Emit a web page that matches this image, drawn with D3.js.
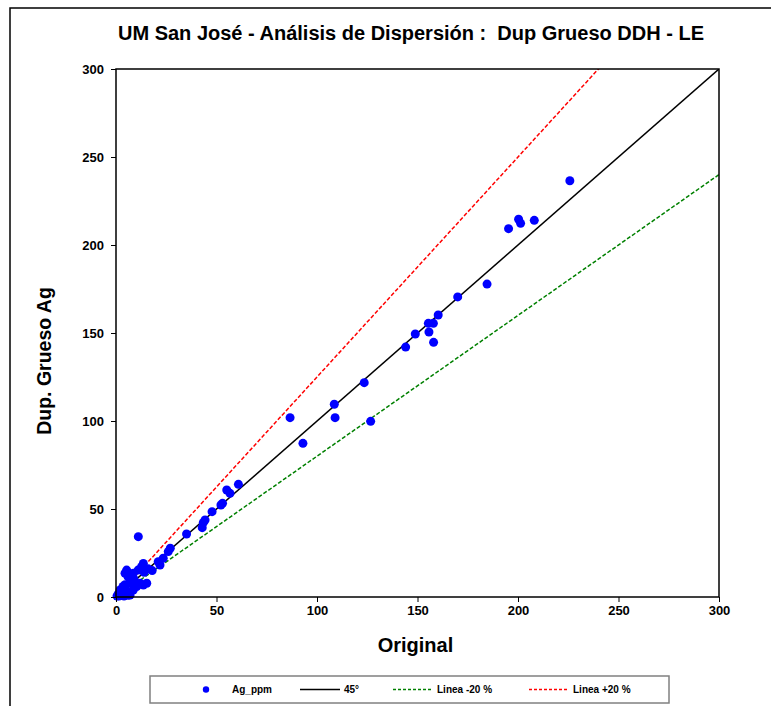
<!DOCTYPE html>
<html>
<head>
<meta charset="utf-8">
<script src="https://cdn.jsdelivr.net/npm/d3@7"></script>
<style>
  body { margin: 0; background: #fff; }
  svg { display: block; font-family: "Liberation Sans", Arial, sans-serif; }
  .axis text { font-size: 13px; font-weight: bold; fill: #000; }
  .axis path, .axis line { stroke: #000; stroke-width: 1; }
</style>
</head>
<body>
<div id="chart"></div>
<script>
// duplicate pairs: original vs coarse duplicate (Ag ppm)
var original = [0.5, 1, 1.5, 2, 2, 2.5, 3, 3.5, 3.6, 4, 4.5, 4.5, 5, 5.3, 6, 6, 7, 7, 7.5, 8.6,
  8.6, 9, 10.3, 11, 11.1, 12, 12.7, 13.6, 13.6, 15.3, 14, 16, 18, 21, 21.9, 23.5, 26, 27,
  35.1, 42.9, 43.4, 44.3, 47.8, 52.2, 53, 55.1, 56.7, 60.9,
  86.6, 93, 108.6, 109, 123.5, 126.7, 144.1, 148.9, 155.4, 157.9, 155.7, 160.3, 158, 170,
  184.6, 195.3, 200.3, 201.3, 208.1, 225.8];
var duplicate = [0.5, 1.5, 0.5, 2, 4, 1, 3, 6, 2, 0.5, 7, 13.5, 4, 15.3, 11.5, 1, 7.8, 1.1, 9, 13.5,
  4, 10, 5.9, 15.3, 34.3, 7.8, 17.2, 19.1, 6.8, 7.8, 14, 16, 15, 20, 18.2, 22, 25.8, 27.7,
  35.8, 39.4, 42.2, 43.75, 48.5, 52.3, 53.2, 60.8, 58.9, 64,
  101.9, 87.3, 109.5, 101.9, 121.8, 99.8, 142, 149.4, 155.5, 155.5, 150.6, 160.2, 144.7, 170.5,
  177.8, 209.3, 214.6, 212.3, 214, 236.5];

var xTicks = [0, 50, 100, 150, 200, 250, 300],
    yTicks = [0, 50, 100, 150, 200, 250, 300];

// reference lines: 45deg, -20 % (y = 0.8x), +20 % (y = x / 0.8)
var refLines = [
  {name: "45°", slope: 1, color: "#000", dash: null},
  {name: "Linea -20 %", slope: 0.8, color: "#008000", dash: "4,2"},
  {name: "Linea +20 %", slope: 1.25, color: "#ff0000", dash: "4,2"}
];

var W = 771, H = 706;
var margin = {top: 69, right: 52, bottom: 109, left: 116},
    width = W - margin.left - margin.right,
    height = H - margin.top - margin.bottom;

var x = d3.scaleLinear().domain([0, 300]).range([0, width]),
    y = d3.scaleLinear().domain([0, 300]).range([height, 0]);

var svg = d3.select("#chart").append("svg")
    .attr("width", W)
    .attr("height", H);

// outer frame
svg.append("rect")
    .attr("x", 10).attr("y", 8)
    .attr("width", W + 20).attr("height", H + 20)
    .attr("fill", "none").attr("stroke", "#000").attr("stroke-width", 1.5);

svg.append("text")
    .attr("x", 411)
    .attr("y", 40)
    .style("text-anchor", "middle")
    .style("font-size", "20px")
    .style("font-weight", "bold")
    .style("white-space", "pre")
    .text("UM San José - Análisis de Dispersión :  Dup Grueso DDH - LE");

svg.append("defs").append("clipPath")
    .attr("id", "clip")
  .append("rect")
    .attr("width", width)
    .attr("height", height);

var focus = svg.append("g")
    .attr("transform", "translate(" + margin.left + "," + margin.top + ")");

var lines = focus.append("g").attr("clip-path", "url(#clip)");
lines.selectAll("line")
    .data(refLines)
    .enter().append("line")
    .attr("x1", x(0)).attr("y1", y(0))
    .attr("x2", x(300))
    .attr("y2", function(d) { return y(300 * d.slope); })
    .attr("stroke", function(d) { return d.color; })
    .attr("stroke-width", 1.5)
    .attr("stroke-dasharray", function(d) { return d.dash; });

focus.append("g")
    .selectAll("circle")
    .data(original)
    .enter().append("circle")
    .attr("cx", function(d) { return x(d); })
    .attr("cy", function(d, i) { return y(duplicate[i]); })
    .attr("r", 4.5)
    .attr("fill", "#0000ff");

// plot box
focus.append("rect")
    .attr("width", width).attr("height", height)
    .attr("fill", "none").attr("stroke", "#000").attr("stroke-width", 1.5);

focus.append("g")
    .attr("class", "axis")
    .attr("transform", "translate(0," + height + ")")
    .call(d3.axisBottom(x).tickValues(xTicks).tickSize(5).tickSizeOuter(0).tickPadding(4));

focus.append("g")
    .attr("class", "axis")
    .call(d3.axisLeft(y).tickValues(yTicks).tickSize(5).tickSizeOuter(0).tickPadding(7));

focus.selectAll(".axis .domain").remove();

focus.append("text")
    .attr("x", width / 2 - 2)
    .attr("y", height + 55)
    .style("text-anchor", "middle")
    .style("font-size", "20px")
    .style("font-weight", "bold")
    .text("Original");

svg.append("text")
    .attr("transform", "translate(51," + 361 + ") rotate(-90)")
    .style("text-anchor", "middle")
    .style("font-size", "19.5px")
    .style("font-weight", "bold")
    .text("Dup. Grueso Ag");

// legend
var legend = svg.append("g").attr("transform", "translate(150,676)");
legend.append("rect")
    .attr("width", 519).attr("height", 27)
    .attr("fill", "#fff").attr("stroke", "#808080").attr("stroke-width", 1.5);

legend.append("circle")
    .attr("cx", 56).attr("cy", 13.5).attr("r", 3.2).attr("fill", "#0000ff");
legend.append("text")
    .attr("x", 82).attr("y", 17)
    .style("font-size", "10px").style("font-weight", "bold")
    .text("Ag_ppm");

var legX = [150, 243, 379];
refLines.forEach(function(d, i) {
  legend.append("line")
      .attr("x1", legX[i]).attr("x2", legX[i] + 40)
      .attr("y1", 13.5).attr("y2", 13.5)
      .attr("stroke", d.color).attr("stroke-width", 1.3)
      .attr("stroke-dasharray", d.dash ? "3,2" : null);
  legend.append("text")
      .attr("x", legX[i] + 44).attr("y", 17)
      .style("font-size", "10px").style("font-weight", "bold")
      .text(d.name);
});
</script>
</body>
</html>
